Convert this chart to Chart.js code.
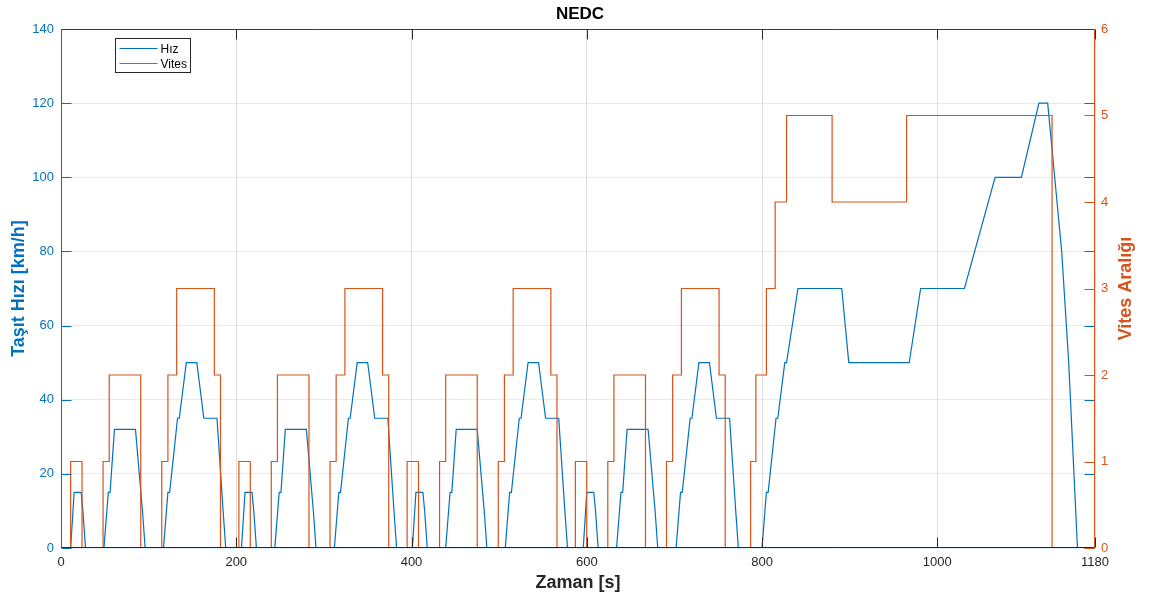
<!DOCTYPE html>
<html><head><meta charset="utf-8">
<script src="https://cdn.jsdelivr.net/npm/chart.js@4.4.1/dist/chart.umd.min.js"></script>
<style>html,body{margin:0;padding:0;background:#fff;overflow:hidden}canvas{display:block}</style>
</head><body>
<canvas id="c" width="1152" height="601"></canvas>
<script>
const chartTitle = 'NEDC';
const xTitle = 'Zaman [s]';
const yLeftTitle = 'Taşıt Hızı [km/h]';
const yRightTitle = 'Vites Aralığı';
const seriesNames = ['Hız', 'Vites'];
const xTickValues = [0, 200, 400, 600, 800, 1000, 1180];

// Vehicle speed (km/h) breakpoints
const speedTime = [
  0, 11, 15, 23, 25, 28, 49, 54, 56, 61, 85, 93, 96, 117, 122, 124, 133, 135, 143, 155, 163, 176, 178, 185, 188,
  195, 206, 210, 218, 220, 223, 244, 249, 251, 256, 280, 288, 291, 312, 317, 319, 328, 330, 338, 350, 358, 371, 373, 380, 383,
  390, 401, 405, 413, 415, 418, 439, 444, 446, 451, 475, 483, 486, 507, 512, 514, 523, 525, 533, 545, 553, 566, 568, 575, 578,
  585, 596, 600, 608, 610, 613, 634, 639, 641, 646, 670, 678, 681, 702, 707, 709, 718, 720, 728, 740, 748, 761, 763, 770, 773,
  780, 800, 805, 807, 816, 818, 826, 828, 841, 891, 899, 968, 981, 1031, 1066, 1096, 1116, 1126, 1142, 1150, 1160, 1180
];
const speedValue = [
  0, 0, 15, 15, 10, 0, 0, 15, 15, 32, 32, 10, 0, 0, 15, 15, 35, 35, 50, 50, 35, 35, 35, 10, 0,
  0, 0, 15, 15, 10, 0, 0, 15, 15, 32, 32, 10, 0, 0, 15, 15, 35, 35, 50, 50, 35, 35, 35, 10, 0,
  0, 0, 15, 15, 10, 0, 0, 15, 15, 32, 32, 10, 0, 0, 15, 15, 35, 35, 50, 50, 35, 35, 35, 10, 0,
  0, 0, 15, 15, 10, 0, 0, 15, 15, 32, 32, 10, 0, 0, 15, 15, 35, 35, 50, 50, 35, 35, 35, 10, 0,
  0, 0, 15, 15, 35, 35, 50, 50, 70, 70, 50, 50, 70, 70, 100, 100, 120, 120, 80, 50, 0, 0
];

// Gear (step changes: gear value starts at the given time)
const gearTime = [
  0, 11, 24, 48, 55, 91, 115, 122, 132, 175, 182,
  203, 216, 240, 247, 283, 307, 314, 324, 367, 374,
  395, 408, 432, 439, 475, 499, 506, 516, 559, 566,
  587, 600, 624, 631, 667, 691, 698, 708, 751, 758,
  787, 793, 805, 815, 828, 880, 965, 1131, 1180
];
const gearValue = [
  0, 1, 0, 1, 2, 0, 1, 2, 3, 2, 0,
  1, 0, 1, 2, 0, 1, 2, 3, 2, 0,
  1, 0, 1, 2, 0, 1, 2, 3, 2, 0,
  1, 0, 1, 2, 0, 1, 2, 3, 2, 0,
  1, 2, 3, 4, 5, 4, 5, 0, 0
];

const BLUE = '#0072BD';
const ORANGE = '#D95319';
const DARK = '#262626';
const FONT = "'Liberation Sans', Arial, Helvetica, sans-serif";

const speedPts = speedTime.map((t, i) => ({x: t, y: speedValue[i]}));
const gearPts = gearTime.map((t, i) => ({x: t, y: gearValue[i]}));

const decor = {
  id: 'decor',
  afterDraw(chart) {
    const {ctx, chartArea: a, scales} = chart;
    const x = scales.x, y = scales.y, y2 = scales.y2;
    const L = Math.round(a.left) + 0.5, R = Math.round(a.right) - 0.5;
    const T = Math.round(a.top) + 0.5, B = Math.round(a.bottom) - 0.5;
    const TL = 10;
    ctx.save();
    ctx.lineWidth = 1;
    // x ticks (inward, bottom and top)
    ctx.strokeStyle = DARK;
    ctx.beginPath();
    xTickValues.forEach(v => {
      const px = Math.round(x.getPixelForValue(v)) + 0.5;
      ctx.moveTo(px, B); ctx.lineTo(px, B - TL);
      ctx.moveTo(px, T); ctx.lineTo(px, T + TL);
    });
    ctx.stroke();
    // left-axis ticks on both sides
    ctx.strokeStyle = BLUE;
    ctx.beginPath();
    y.ticks.forEach(t => {
      const py = Math.round(y.getPixelForValue(t.value)) + 0.5;
      ctx.moveTo(L, py); ctx.lineTo(L + TL, py);
      ctx.moveTo(R, py); ctx.lineTo(R - TL, py);
    });
    ctx.stroke();
    // right-axis ticks
    ctx.strokeStyle = ORANGE;
    ctx.beginPath();
    y2.ticks.forEach(t => {
      const py = Math.round(y2.getPixelForValue(t.value)) + 0.5;
      ctx.moveTo(R, py); ctx.lineTo(R - TL, py);
    });
    ctx.stroke();
    // borders
    ctx.strokeStyle = '#3a3a3a';
    ctx.beginPath(); ctx.moveTo(L, T); ctx.lineTo(R, T); ctx.stroke();
    ctx.strokeStyle = DARK;
    ctx.beginPath(); ctx.moveTo(L, B); ctx.lineTo(R, B); ctx.stroke();
    ctx.strokeStyle = BLUE;
    ctx.beginPath(); ctx.moveTo(L, T); ctx.lineTo(L, B); ctx.stroke();
    ctx.strokeStyle = ORANGE;
    ctx.beginPath(); ctx.moveTo(R, T); ctx.lineTo(R, B); ctx.stroke();

    // titles
    const cx = (a.left + a.right) / 2, cy = (a.top + a.bottom) / 2;
    ctx.textAlign = 'center';
    ctx.textBaseline = 'middle';
    ctx.fillStyle = '#000';
    ctx.font = 'bold 17px ' + FONT;
    ctx.fillText(chartTitle, cx + 2, 14);
    ctx.fillStyle = DARK;
    ctx.font = 'bold 18px ' + FONT;
    ctx.fillText(xTitle, cx, 583);
    ctx.save();
    ctx.translate(19, cy);
    ctx.rotate(-Math.PI / 2);
    ctx.fillStyle = BLUE;
    ctx.fillText(yLeftTitle, 0, 0);
    ctx.restore();
    ctx.save();
    ctx.translate(1126, cy);
    ctx.rotate(-Math.PI / 2);
    ctx.fillStyle = ORANGE;
    ctx.fillText(yRightTitle, 0, 0);
    ctx.restore();

    // legend
    const lx = 115.5, ly = 38.5, lw = 75, lh = 34;
    ctx.fillStyle = '#fff';
    ctx.fillRect(lx, ly, lw, lh);
    ctx.strokeStyle = DARK;
    ctx.strokeRect(lx, ly, lw, lh);
    const colors = [BLUE, ORANGE];
    ctx.font = '12px ' + FONT;
    ctx.textAlign = 'left';
    seriesNames.forEach((n, i) => {
      const yy = Math.round(ly + 9 + i * 15.5) + 0.5;
      ctx.strokeStyle = colors[i];
      ctx.lineWidth = 1.2;
      ctx.beginPath(); ctx.moveTo(lx + 4, yy); ctx.lineTo(lx + 42, yy); ctx.stroke();
      ctx.fillStyle = '#000';
      ctx.fillText(n, lx + 45, yy + 1);
    });
    ctx.restore();
  }
};

new Chart(document.getElementById('c'), {
  type: 'line',
  data: {
    datasets: [
      {label: seriesNames[0], data: speedPts, yAxisID: 'y', borderColor: BLUE, borderWidth: 1.2, pointRadius: 0, tension: 0, order: 2},
      {label: seriesNames[1], data: gearPts, yAxisID: 'y2', borderColor: ORANGE, borderWidth: 1.2, pointRadius: 0, stepped: 'before', tension: 0, order: 1}
    ]
  },
  options: {
    responsive: false,
    animation: false,
    devicePixelRatio: 1,
    layout: {padding: {top: 29, left: 0, right: 0, bottom: 0}},
    plugins: {legend: {display: false}, title: {display: false}, tooltip: {enabled: false}},
    scales: {
      x: {
        type: 'linear', min: 0, max: 1180,
        afterBuildTicks: s => { s.ticks = xTickValues.map(v => ({value: v})); },
        afterFit: s => { s.height = 53; },
        grid: {color: 'rgba(38,38,38,0.15)', drawTicks: false},
        border: {display: false},
        ticks: {color: DARK, font: {family: FONT, size: 13}, padding: 7, maxRotation: 0, autoSkip: false, callback: v => String(v)}
      },
      y: {
        position: 'left', min: 0, max: 140,
        afterFit: s => { s.width = 61; },
        grid: {color: 'rgba(0,114,189,0.13)', drawTicks: false},
        border: {display: false},
        ticks: {stepSize: 20, color: BLUE, font: {family: FONT, size: 13}, padding: 7}
      },
      y2: {
        position: 'right', min: 0, max: 6,
        afterFit: s => { s.width = 57; },
        grid: {drawOnChartArea: false, drawTicks: false},
        border: {display: false},
        ticks: {stepSize: 1, color: ORANGE, font: {family: FONT, size: 13}, padding: 6}
      }
    }
  },
  plugins: [decor]
});
</script>
</body></html>
